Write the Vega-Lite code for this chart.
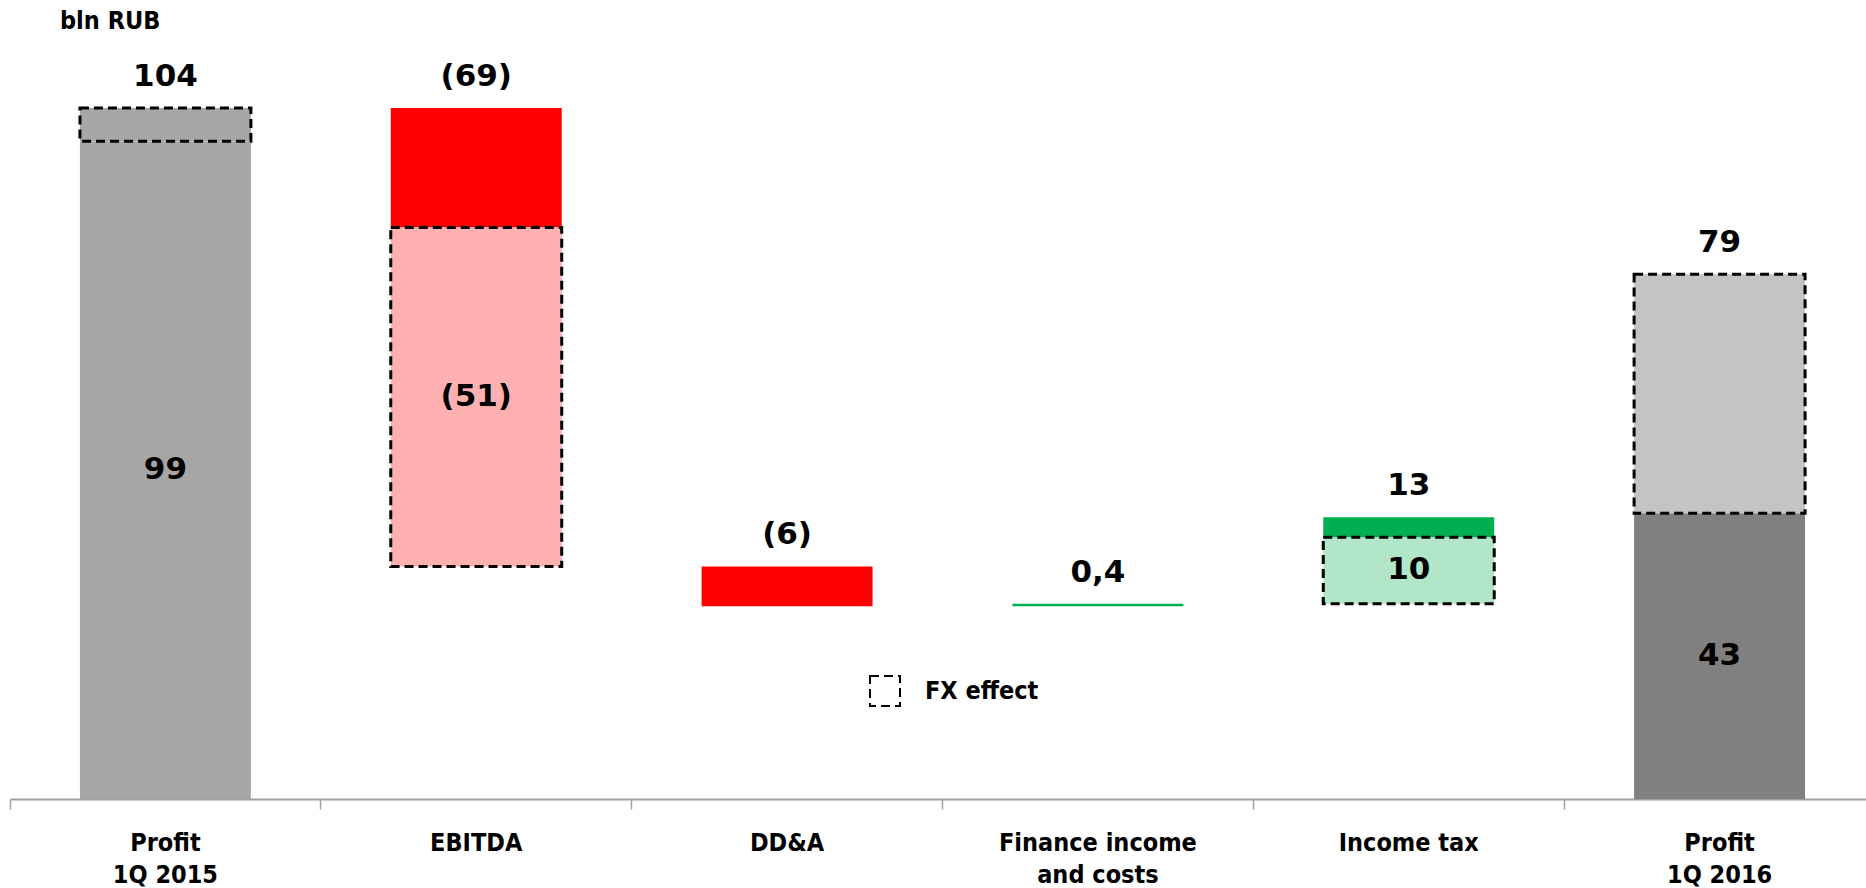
{
  "$schema": "https://vega.github.io/schema/vega-lite/v6.json",
  "description": "Profit bridge 1Q 2015 to 1Q 2016, bln RUB, with the FX effect outlined in dashes",
  "autosize": {"type": "none"},
  "width": 1856,
  "height": 759,
  "padding": {"left": 10, "top": 40, "right": 0, "bottom": 89},
  "background": "white",
  "title": {
    "text": "bln RUB",
    "anchor": "start",
    "frame": "group",
    "dx": 50,
    "offset": 6,
    "font": "DejaVu Sans Condensed, Liberation Sans Narrow, DejaVu Sans, sans-serif",
    "fontSize": 25,
    "fontWeight": "bold",
    "color": "black"
  },
  "config": {
    "view": {"stroke": null},
    "text": {"font": "DejaVu Sans, sans-serif", "fontWeight": "bold", "fontSize": 31, "color": "black"}
  },
  "datasets": {
    "segments": [
      {"step": "Profit\n1Q 2015", "lo": 0, "hi": 99, "part": "Profit 1Q 2015", "effect": "Operating"},
      {"step": "Profit\n1Q 2015", "lo": 99, "hi": 104, "part": "Profit 1Q 2015", "effect": "FX effect"},
      {"step": "EBITDA", "lo": 86, "hi": 104, "part": "Decrease", "effect": "Operating"},
      {"step": "EBITDA", "lo": 35, "hi": 86, "part": "Decrease (FX)", "effect": "FX effect"},
      {"step": "DD&A", "lo": 29, "hi": 35, "part": "Decrease", "effect": "Operating"},
      {"step": "Finance income\nand costs", "lo": 29, "hi": 29.4, "part": "Increase", "effect": "Operating"},
      {"step": "Income tax", "lo": 29.4, "hi": 39.4, "part": "Increase (FX)", "effect": "FX effect"},
      {"step": "Income tax", "lo": 39.4, "hi": 42.4, "part": "Increase", "effect": "Operating"},
      {"step": "Profit\n1Q 2016", "lo": 0, "hi": 43, "part": "Profit 1Q 2016", "effect": "Operating"},
      {"step": "Profit\n1Q 2016", "lo": 43, "hi": 79, "part": "Profit 1Q 2016 (FX)", "effect": "FX effect"}
    ],
    "totals": [
      {"step": "Profit\n1Q 2015", "at": 104, "text": "104"},
      {"step": "EBITDA", "at": 104, "text": "(69)"},
      {"step": "DD&A", "at": 35, "text": "(6)"},
      {"step": "Finance income\nand costs", "at": 29.4, "text": "0,4"},
      {"step": "Income tax", "at": 42.4, "text": "13"},
      {"step": "Profit\n1Q 2016", "at": 79, "text": "79"}
    ],
    "inner": [
      {"step": "Profit\n1Q 2015", "lo": 0, "hi": 99, "text": "99"},
      {"step": "EBITDA", "lo": 35, "hi": 86, "text": "(51)"},
      {"step": "Income tax", "lo": 29.4, "hi": 39.4, "text": "10"},
      {"step": "Profit\n1Q 2016", "lo": 0, "hi": 43, "text": "43"}
    ]
  },
  "encoding": {
    "x": {
      "field": "step",
      "type": "nominal",
      "sort": null,
      "scale": {
        "domain": ["Profit\n1Q 2015", "EBITDA", "DD&A", "Finance income\nand costs", "Income tax", "Profit\n1Q 2016"],
        "range": [0, 1865],
        "paddingInner": 0,
        "paddingOuter": 0
      },
      "axis": {
        "title": null,
        "bandPosition": 0,
        "labelAngle": 0,
        "labelExpr": "split(datum.value, '\\n')",
        "labelFont": "DejaVu Sans Condensed, Liberation Sans Narrow, DejaVu Sans, sans-serif",
        "labelFontSize": 25,
        "labelFontWeight": "bold",
        "labelColor": "black",
        "labelBaseline": "top",
        "labelLineHeight": 32,
        "labelPadding": 21,
        "labelLimit": 0,
        "domainColor": "#a0a0a0",
        "domainWidth": 2,
        "tickColor": "#a0a0a0",
        "tickWidth": 1.5,
        "tickSize": 10,
        "grid": false
      }
    }
  },
  "layer": [
    {
      "data": {"name": "segments"},
      "mark": {"type": "bar", "width": {"band": 0.55}},
      "encoding": {
        "y": {"field": "lo", "type": "quantitative", "scale": {"domain": [0, 114.24], "nice": false, "zero": true}, "axis": null},
        "y2": {"field": "hi"},
        "color": {
          "field": "part",
          "type": "nominal",
          "scale": {
            "domain": ["Profit 1Q 2015", "Decrease", "Decrease (FX)", "Increase", "Increase (FX)", "Profit 1Q 2016", "Profit 1Q 2016 (FX)"],
            "range": ["#a6a6a6", "#ff0000", "#ffb1b1", "#00b050", "#b1e6c8", "#808080", "#c4c4c4"]
          },
          "legend": null
        }
      }
    },
    {
      "data": {"name": "segments"},
      "transform": [{"filter": "datum.effect === 'FX effect'"}],
      "mark": {"type": "bar", "width": {"band": 0.55}, "fill": "transparent", "stroke": "black", "strokeWidth": 3},
      "encoding": {
        "y": {"field": "lo", "type": "quantitative"},
        "y2": {"field": "hi"},
        "strokeDash": {
          "field": "effect",
          "type": "nominal",
          "scale": {"domain": ["FX effect"], "range": [[9, 5]]},
          "legend": {
            "title": null,
            "orient": "none",
            "legendX": 859,
            "legendY": 635,
            "padding": 0,
            "symbolType": "square",
            "symbolSize": 900,
            "symbolFillColor": "white",
            "symbolStrokeColor": "black",
            "symbolStrokeWidth": 2,
            "symbolOpacity": 1,
            "symbolDash": [6, 5],
            "labelFont": "DejaVu Sans Condensed, Liberation Sans Narrow, DejaVu Sans, sans-serif",
            "labelFontSize": 25,
            "labelFontWeight": "bold",
            "labelColor": "black",
            "labelOffset": 24,
            "encode": {
              "symbols": {
                "update": {
                  "stroke": {"value": "black"},
                  "strokeWidth": {"value": 2},
                  "strokeDash": {"value": [6, 5]},
                  "fill": {"value": "white"},
                  "opacity": {"value": 1},
                  "strokeOpacity": {"value": 1}
                }
              }
            }
          }
        }
      }
    },
    {
      "data": {"name": "totals"},
      "mark": {"type": "text", "baseline": "middle", "dy": -31},
      "encoding": {
        "y": {"field": "at", "type": "quantitative"},
        "text": {"field": "text"}
      }
    },
    {
      "data": {"name": "inner"},
      "transform": [{"calculate": "(datum.lo + datum.hi) / 2", "as": "mid"}],
      "mark": {"type": "text", "baseline": "middle"},
      "encoding": {
        "y": {"field": "mid", "type": "quantitative"},
        "text": {"field": "text"}
      }
    }
  ]
}
